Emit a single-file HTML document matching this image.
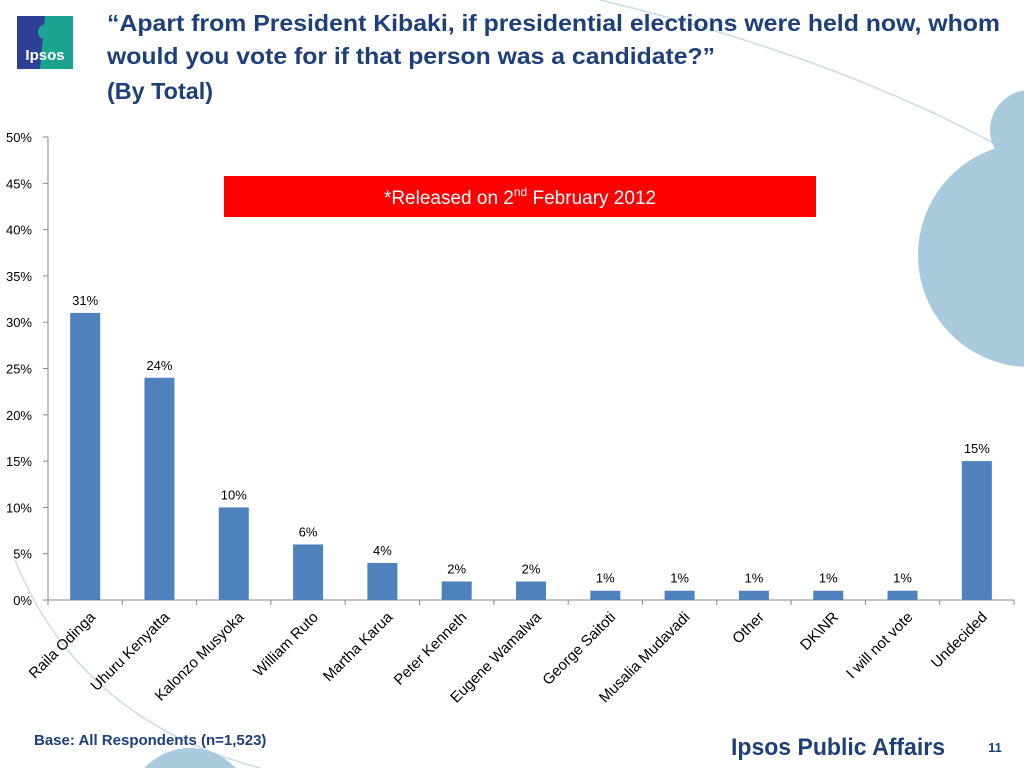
<!DOCTYPE html>
<html><head><meta charset="utf-8"><style>
html,body{margin:0;width:1024px;height:768px;background:#fff;overflow:hidden;font-family:"Liberation Sans",sans-serif;position:relative}
svg{overflow:hidden;display:block}
</style></head><body>
<svg width="1024" height="768" style="position:absolute;left:0;top:0">
<g>
<path d="M600,0 Q850,60 1024,160" fill="none" stroke="#c8dbe8" stroke-width="1.5"/>
<path d="M15,560 Q80,720 260,768" fill="none" stroke="#c8dbe8" stroke-width="1.5"/>
<circle cx="1030" cy="130" r="40" fill="#a9c9dc"/>
<circle cx="1030" cy="255" r="112" fill="#a9c9dc"/>
<circle cx="190" cy="810" r="62" fill="#a9c9dc"/>
</g>
<g>
<rect x="17" y="16" width="56" height="53" fill="#2e3f96"/>
<polygon points="45,16 73,16 73,69 40,69" fill="#1aa38f"/>
<circle cx="46" cy="32" r="8" fill="#1aa38f"/>
<text x="45" y="60" font-size="15" font-weight="bold" fill="#fff" text-anchor="middle">Ipsos</text>
</g>
<g font-weight="bold" fill="#1f3f7a" font-size="23">
<text x="107" y="31" textLength="893" lengthAdjust="spacingAndGlyphs">“Apart from President Kibaki, if presidential elections were held now, whom</text>
<text x="107" y="64" textLength="608" lengthAdjust="spacingAndGlyphs">would you vote for if that person was a candidate?”</text>
<text x="107" y="99" textLength="106" lengthAdjust="spacingAndGlyphs">(By Total)</text>
</g>
<rect x="224" y="176" width="592" height="41" fill="#ff0000"/>
<text x="520" y="204" font-size="19" fill="#fff" text-anchor="middle">*Released on 2<tspan font-size="12" dy="-8">nd</tspan><tspan dy="8"> February 2012</tspan></text>
<g id="chart"></g>
<text x="34" y="745" font-size="15" font-weight="bold" fill="#1f3f7a">Base: All Respondents (n=1,523)</text>
<text x="731" y="755" font-size="24" font-weight="bold" fill="#1f3f7a" textLength="214" lengthAdjust="spacingAndGlyphs">Ipsos Public Affairs</text>
<text x="995" y="752" font-size="13" font-weight="bold" fill="#1f3f7a" text-anchor="middle">11</text>
</svg>
<script>
const categories=["Raila Odinga","Uhuru Kenyatta","Kalonzo Musyoka","William Ruto","Martha Karua","Peter Kenneth","Eugene Wamalwa","George Saitoti","Musalia Mudavadi","Other","DK\\NR","I will not vote","Undecided"];
const values=[31,24,10,6,4,2,2,1,1,1,1,1,15];
const yTicks=[0,5,10,15,20,25,30,35,40,45,50];
const NS="http://www.w3.org/2000/svg";
const g=document.getElementById('chart');
const X0=48,X1=1014,Y0=600,Y1=137,YMAX=50;
const bw=(X1-X0)/categories.length;
const y=v=>Y0-(v/YMAX)*(Y0-Y1);
const x=i=>X0+bw*(i+0.5);
function mk(t,a){const e=document.createElementNS(NS,t);for(const k in a)e.setAttribute(k,a[k]);g.appendChild(e);return e;}
let ax=mk('line',{x1:X0,y1:Y1,x2:X0,y2:Y0,stroke:'#888'});


let bx=mk('line',{x1:X0,y1:Y0,x2:X1,y2:Y0,stroke:'#888'});


yTicks.forEach(t=>{
 const l=mk('line',{x1:X0-5,x2:X0,y1:y(t),y2:y(t),stroke:'#888'});
 
 
 const tx=mk('text',{x:32,y:y(t)+5,'font-size':13,'text-anchor':'end',fill:'#000'});
 tx.textContent=t+'%';
 
 
});
for(let i=0;i<=categories.length;i++){
 const l=mk('line',{x1:X0+bw*i,x2:X0+bw*i,y1:Y0,y2:Y0+5,stroke:'#888'});
 
 
}
categories.forEach((c,i)=>{
 const v=values[i];
 const r=mk('rect',{x:x(i)-15,y:y(v),width:30,height:Y0-y(v),fill:'#4f81bd'});
 
 
 const vl=mk('text',{x:x(i),y:y(v)-8,'font-size':13,'text-anchor':'middle',fill:'#000'});
 vl.textContent=v+'%';
 
 
 const cl=mk('text',{x:x(i)+11,y:Y0+18,'font-size':15,'text-anchor':'end',fill:'#000',transform:`rotate(-45 ${x(i)+11} ${Y0+18})`});
 cl.textContent=c;
 
 
});
</script>
</body></html>
